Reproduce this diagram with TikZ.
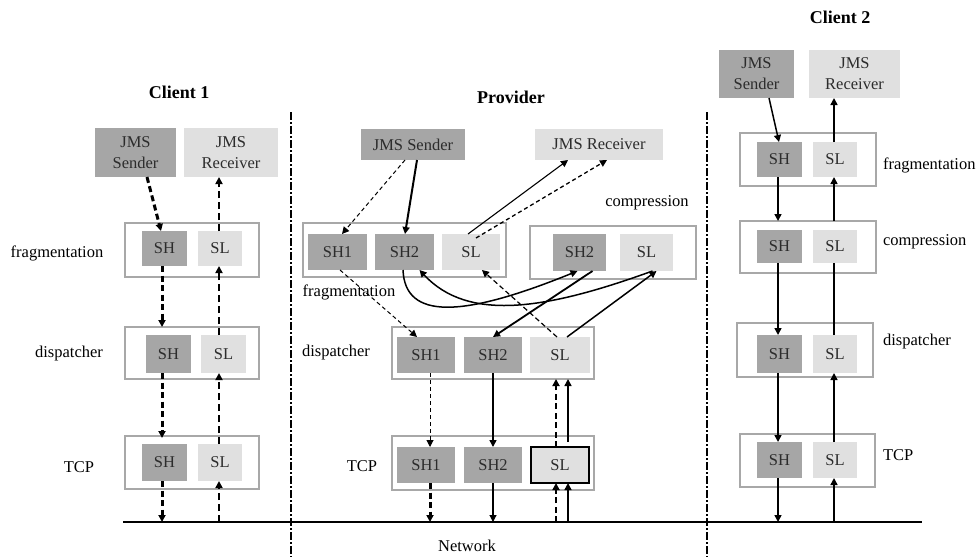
\documentclass[tikz,border=0pt]{standalone}
\usepackage{fontspec}
\setmainfont{Liberation Serif}
\usetikzlibrary{arrows.meta}
\definecolor{dk}{HTML}{A6A6A6}
\definecolor{lt}{HTML}{E0E0E0}
\definecolor{bord}{HTML}{A8A8A8}
\definecolor{txt}{HTML}{2C2C2C}
\begin{document}
\begin{tikzpicture}[x=1pt,y=-1pt,
  every node/.style={font=\fontsize{16.5}{21}\selectfont, inner sep=0pt, outer sep=0pt},
  darkbox/.style={fill=dk, text=txt, align=center},
  lightbox/.style={fill=lt, text=txt, align=center},
  layerbox/.style={draw=bord, line width=1.2pt, fill=white},
  lbl/.style={text=black},
  ttl/.style={font=\fontsize{18}{21}\selectfont\bfseries},
  tip/.style={-{Triangle[length=7pt,width=7pt]}},
  thickdash/.style={tip, line width=3pt, dash pattern=on 6pt off 3.5pt},
  meddash/.style={tip, line width=1.7pt, dash pattern=on 7pt off 4pt},
  thindash/.style={tip, line width=1pt, dash pattern=on 4pt off 3pt},
  solidarr/.style={tip, line width=1.5pt},
  thickarr/.style={tip, line width=2pt},
  thinarr/.style={tip, line width=1.1pt},
  divider/.style={line width=1.6pt, dash pattern=on 8pt off 2pt on 2pt off 2pt}
]
\useasboundingbox (0,0) rectangle (979,557);
\fill[white] (0,0) rectangle (979,557);

% ---------- Dividers and network ----------
\coordinate (dl1) at (291,112); \coordinate (dl2) at (291,557);
\coordinate (dr1) at (707,112); \coordinate (dr2) at (707,557);
\draw[divider] (dl1) -- (dl2);
\draw[divider] (dr1) -- (dr2);
\coordinate (netL) at (123,522); \coordinate (netR) at (922,522);
\draw[line width=1.1pt] (netL) -- (netR);
\node[lbl] (netlbl) at (467,546) {Network};

% ---------- Client 1 ----------
\node[ttl] (c1title) at (179,92) {Client 1};
\node[darkbox, minimum width=81pt, minimum height=49pt] (c1send) at (135.5,152.5) {JMS\\Sender};
\node[lightbox, minimum width=94pt, minimum height=49pt] (c1recv) at (231,152.5) {JMS\\Receiver};

\node[layerbox, minimum width=134pt, minimum height=54pt] (c1frag) at (192,250) {};
\node[darkbox, minimum width=45pt, minimum height=35pt] (c1fSH) at (164.5,248.5) {SH};
\node[lightbox, minimum width=44pt, minimum height=35pt] (c1fSL) at (220,248.5) {SL};
\node[lbl] (c1fraglbl) at (57,253) {fragmentation};

\node[layerbox, minimum width=134pt, minimum height=52pt] (c1disp) at (192,353) {};
\node[darkbox, minimum width=45pt, minimum height=38pt] (c1dSH) at (168.5,354) {SH};
\node[lightbox, minimum width=45pt, minimum height=38pt] (c1dSL) at (223.5,354) {SL};
\node[lbl] (c1displbl) at (69,354) {dispatcher};

\node[layerbox, minimum width=134pt, minimum height=53pt] (c1tcp) at (192,462.5) {};
\node[darkbox, minimum width=45pt, minimum height=37pt] (c1tSH) at (164.5,462.5) {SH};
\node[lightbox, minimum width=44pt, minimum height=37pt] (c1tSL) at (220,462.5) {SL};
\node[lbl] (c1tcplbl) at (79,467) {TCP};

\draw[thickdash] ([xshift=11.5pt]c1send.south) -- ([xshift=-3.5pt]c1fSH.north);
\draw[thickdash] ([xshift=-2.5pt]c1fSH.south) -- ([xshift=-30pt]c1disp.north);
\draw[thickdash] ([xshift=-6.5pt]c1dSH.south) -- ([xshift=-30pt,yshift=-2pt]c1tcp.north);
\draw[thickdash] ([xshift=-2.5pt]c1tSH.south) -- (162,522);
\draw[meddash] (219,522) -- ([xshift=-1pt]c1tSL.south);
\draw[meddash] ([xshift=-1pt]c1tSL.north) -- ([xshift=-4.5pt]c1dSL.south);
\draw[meddash] ([xshift=-4.5pt]c1dSL.north) -- ([xshift=-1pt]c1fSL.south);
\draw[meddash] ([xshift=-1pt]c1fSL.north) -- ([xshift=-12pt]c1recv.south);

% ---------- Provider ----------
\node[ttl] (ptitle) at (511,97) {Provider};
\node[darkbox, minimum width=104pt, minimum height=31pt] (psend) at (413,144.5) {JMS Sender};
\node[lightbox, minimum width=128pt, minimum height=31pt] (precv) at (599,144.5) {JMS Receiver};

\node[layerbox, minimum width=203pt, minimum height=54pt] (pfrag) at (404.5,250) {};
\node[darkbox, minimum width=59pt, minimum height=36pt] (pfSH1) at (337.5,252) {SH1};
\node[darkbox, minimum width=59pt, minimum height=36pt] (pfSH2) at (404.5,252) {SH2};
\node[lightbox, minimum width=58pt, minimum height=36pt] (pfSL) at (471,252) {SL};
\node[lbl] (pfraglbl) at (349,292) {fragmentation};

\node[layerbox, minimum width=166pt, minimum height=53pt] (pcomp) at (613,252.5) {};
\node[darkbox, minimum width=53pt, minimum height=37pt] (pcSH2) at (579.5,252.5) {SH2};
\node[lightbox, minimum width=53pt, minimum height=37pt] (pcSL) at (646.5,252.5) {SL};
\node[lbl] (pcomplbl) at (647,203) {compression};

\node[layerbox, minimum width=202pt, minimum height=52pt] (pdisp) at (493,353) {};
\node[darkbox, minimum width=58pt, minimum height=36pt] (pdSH1) at (426,355) {SH1};
\node[darkbox, minimum width=58pt, minimum height=36pt] (pdSH2) at (493,355) {SH2};
\node[lightbox, minimum width=60pt, minimum height=36pt] (pdSL) at (560,355) {SL};
\node[lbl] (pdisplbl) at (336,353) {dispatcher};

\node[layerbox, minimum width=202pt, minimum height=54pt] (ptcp) at (493,463) {};
\node[darkbox, minimum width=58pt, minimum height=36pt] (ptSH1) at (426,465) {SH1};
\node[darkbox, minimum width=58pt, minimum height=36pt] (ptSH2) at (493,465) {SH2};
\node[lightbox, draw=black, line width=1.3pt, minimum width=58pt, minimum height=36pt] (ptSL) at (560,465) {SL};
\node[lbl] (ptcplbl) at (362,466) {TCP};

% sender / receiver arrows
\draw[thindash] ([xshift=-8pt]psend.south) -- ([xshift=4.5pt]pfSH1.north);
\draw[thickarr] ([xshift=4pt]psend.south) -- ([xshift=0.5pt]pfSH2.north);
\draw[thinarr] ([xshift=-3pt]pfSL.north) -- ([xshift=-31pt]precv.south);
\draw[thindash, line width=1.3pt] ([xshift=5pt,yshift=-4pt]pfSL.north) -- ([xshift=8pt]precv.south);
% crossing curves
\draw[solidarr] ([xshift=-1.5pt]pfSH2.south) .. controls (405,320) and (462,318) .. ([xshift=-2pt]pcSH2.south);
\draw[solidarr] ([xshift=6pt]pcSL.south) .. controls (545,310) and (468,322) .. ([xshift=15pt]pfSH2.south);
\draw[thickarr, line width=1.8pt] ([xshift=13pt]pcSH2.south) -- (pdSH2.north);
\draw[solidarr] ([xshift=7pt]pdSL.north) -- ([xshift=10pt]pcSL.south);
\draw[meddash, line width=1.2pt, dash pattern=on 5pt off 3pt] ([xshift=-3pt]pdSL.north) -- ([xshift=11pt]pfSL.south);
\draw[thindash] ([xshift=2.5pt]pfSH1.south) -- ([xshift=-9pt]pdSH1.north);
% vertical provider arrows
\draw[thindash] ([xshift=4pt]pdSH1.south) -- ([xshift=4pt]ptSH1.north);
\draw[solidarr] (pdSH2.south) -- (ptSH2.north);
\draw[thickdash] ([xshift=4pt]ptSH1.south) -- (430,522);
\draw[thinarr] (ptSH2.south) -- (493,522);
\draw[thickdash, line width=2.2pt] (556,522) -- ([xshift=-4pt]ptSL.south);
\draw[solidarr] (568,522) -- ([xshift=8pt]ptSL.south);
\draw[thickdash, line width=2.2pt] ([xshift=-4pt]ptSL.north) -- (556,379);
\draw[solidarr] ([xshift=8pt,yshift=5pt]ptSL.north) -- (568,379);

% ---------- Client 2 ----------
\node[ttl] (c2title) at (840,17) {Client 2};
\node[darkbox, minimum width=75pt, minimum height=48pt] (c2send) at (756.5,74) {JMS\\Sender};
\node[lightbox, minimum width=91pt, minimum height=48pt] (c2recv) at (854.5,74) {JMS\\Receiver};

\node[layerbox, minimum width=136pt, minimum height=53pt] (c2frag) at (808,159.5) {};
\node[darkbox, minimum width=45pt, minimum height=35pt] (c2fSH) at (779.5,159.5) {SH};
\node[lightbox, minimum width=44pt, minimum height=35pt] (c2fSL) at (835,159.5) {SL};
\node[lbl, anchor=west] (c2fraglbl) at (883,165) {fragmentation};

\node[layerbox, minimum width=136pt, minimum height=52pt] (c2comp) at (808,247) {};
\node[darkbox, minimum width=45pt, minimum height=33pt] (c2cSH) at (779.5,246.5) {SH};
\node[lightbox, minimum width=44pt, minimum height=33pt] (c2cSL) at (835,246.5) {SL};
\node[lbl, anchor=west] (c2complbl) at (883,242) {compression};

\node[layerbox, minimum width=136pt, minimum height=54pt] (c2disp) at (805,350) {};
\node[darkbox, minimum width=45pt, minimum height=38pt] (c2dSH) at (779.5,354) {SH};
\node[lightbox, minimum width=44pt, minimum height=38pt] (c2dSL) at (835,354) {SL};
\node[lbl, anchor=west] (c2displbl) at (883,342) {dispatcher};

\node[layerbox, minimum width=135pt, minimum height=53pt] (c2tcp) at (807.5,460.5) {};
\node[darkbox, minimum width=45pt, minimum height=36pt] (c2tSH) at (779.5,460) {SH};
\node[lightbox, minimum width=44pt, minimum height=36pt] (c2tSL) at (835,460) {SL};
\node[lbl, anchor=west] (c2tcplbl) at (883,455) {TCP};

\draw[solidarr] ([xshift=12.5pt]c2send.south) -- ([xshift=-0.5pt]c2fSH.north);
\draw[solidarr] ([xshift=-1.5pt]c2fSH.south) -- (778,221);
\draw[solidarr] ([xshift=-1.5pt]c2cSH.south) -- ([xshift=-1.5pt]c2dSH.north);
\draw[solidarr] ([xshift=-1.5pt]c2dSH.south) -- ([xshift=-1.5pt]c2tSH.north);
\draw[solidarr] ([xshift=-1.5pt]c2tSH.south) -- (778,522);
\draw[solidarr] (834,522) -- ([xshift=-1pt]c2tSL.south);
\draw[solidarr] ([xshift=-1pt]c2tSL.north) -- ([xshift=-1pt]c2dSL.south);
\draw[line width=1.5pt] ([xshift=-1pt]c2dSL.north) -- ([xshift=-1pt]c2cSL.south);
\draw[solidarr] (834,221) -- ([xshift=-1pt]c2fSL.south);
\draw[solidarr] ([xshift=-1pt]c2fSL.north) -- ([xshift=-20.5pt]c2recv.south);
\end{tikzpicture}
\end{document}
